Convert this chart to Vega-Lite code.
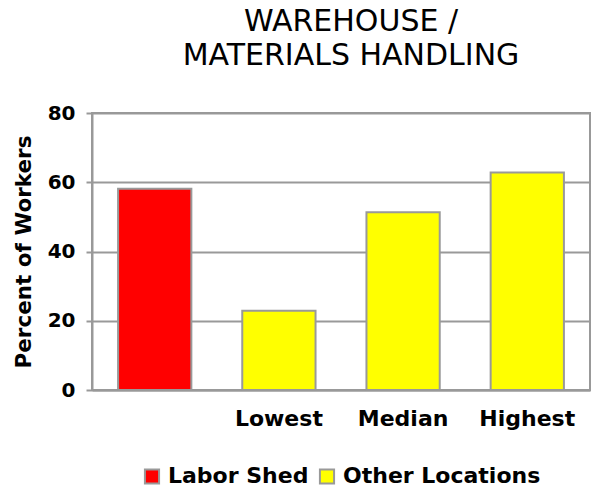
{
  "$schema": "https://vega.github.io/schema/vega-lite/v6.json",
  "autosize": {"type": "none"},
  "padding": {"left": 92, "top": 113, "right": 6, "bottom": 102},
  "width": 498,
  "height": 277,
  "background": "white",
  "title": {
    "text": ["WAREHOUSE /", "MATERIALS HANDLING"],
    "font": "DejaVu Sans",
    "fontSize": 30,
    "fontWeight": "normal",
    "color": "black",
    "lineHeight": 34,
    "anchor": "middle",
    "dx": 10,
    "offset": 32
  },
  "data": {
    "values": [
      {"cat": "Labor Shed", "series": "Labor Shed", "value": 58.1},
      {"cat": "Lowest", "series": "Other Locations", "value": 22.9},
      {"cat": "Median", "series": "Other Locations", "value": 51.3},
      {"cat": "Highest", "series": "Other Locations", "value": 62.8}
    ]
  },
  "mark": {"type": "bar", "stroke": "#999999", "strokeWidth": 2},
  "encoding": {
    "x": {
      "field": "cat",
      "type": "nominal",
      "sort": null,
      "scale": {"paddingInner": 0.41, "paddingOuter": 0.21},
      "axis": {
        "title": null,
        "labelAngle": 0,
        "labelExpr": "datum.label == 'Labor Shed' ? '' : datum.label",
        "labelFont": "DejaVu Sans",
        "labelFontWeight": "bold",
        "labelFontSize": 22,
        "labelColor": "black",
        "labelPadding": 18,
        "ticks": false,
        "domainColor": "#999999",
        "domainWidth": 2
      }
    },
    "y": {
      "field": "value",
      "type": "quantitative",
      "scale": {"domain": [0, 80]},
      "axis": {
        "title": "Percent of Workers",
        "titleFont": "DejaVu Sans",
        "titleFontWeight": "bold",
        "titleFontSize": 21.5,
        "titleColor": "black",
        "titlePadding": 12,
        "values": [0, 20, 40, 60, 80],
        "labelFont": "DejaVu Sans",
        "labelFontWeight": "bold",
        "labelFontSize": 20,
        "labelColor": "black",
        "labelPadding": 11,
        "tickColor": "#999999",
        "tickWidth": 2,
        "tickSize": 6,
        "domainColor": "#999999",
        "domainWidth": 2,
        "grid": true,
        "gridColor": "#999999",
        "gridWidth": 2
      }
    },
    "color": {
      "field": "series",
      "type": "nominal",
      "scale": {"domain": ["Labor Shed", "Other Locations"], "range": ["#ff0000", "#ffff00"]},
      "legend": {
        "title": null,
        "orient": "bottom",
        "direction": "horizontal",
        "symbolType": "square",
        "symbolSize": 200,
        "symbolStrokeColor": "#999999",
        "symbolStrokeWidth": 2,
        "symbolOpacity": 1,
        "labelFont": "DejaVu Sans",
        "labelFontWeight": "bold",
        "labelFontSize": 22,
        "labelColor": "black",
        "labelLimit": 400,
        "labelOffset": 5,
        "columnPadding": 6,
        "offset": 36
      }
    }
  },
  "config": {
    "view": {"stroke": "#999999", "strokeWidth": 2},
    "legend": {"layout": {"bottom": {"anchor": "middle"}}}
  }
}
